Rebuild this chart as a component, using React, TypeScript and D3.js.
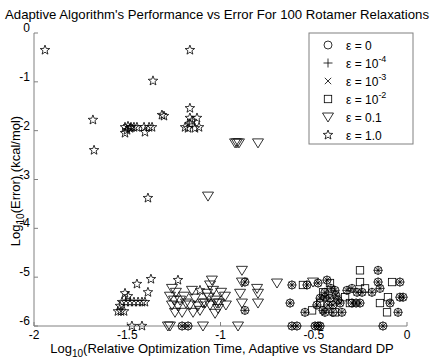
import React from "react";
import * as d3 from "d3";

// ---- data (log10 relative time, log10 error) ----
const sharedX = [-0.869,-0.869,-0.617,-0.627,-0.536,-0.477,-0.429,-0.547,-0.466,-0.440,-0.483,-0.450,-0.590,-0.477,-0.155,-0.155,-0.038,-0.145,-0.038,-0.091,-0.048,-0.129,-0.322,-0.295,-0.268,-0.241,-0.188,-0.440,-0.413,-0.424,-0.397,-0.440,-0.397,-0.349,-0.295,-0.273,-0.381,-0.370,-0.386,-0.359,-0.408,-0.021,-1.206,-1.174,-0.617,-0.493,-0.466,-0.252];
const sharedY = [-5.10,-5.68,-5.16,-5.53,-5.16,-5.12,-5.06,-5.72,-5.43,-5.41,-5.57,-5.68,-6,-6,-4.86,-5.10,-5.10,-5.23,-5.41,-5.53,-5.72,-6,-5.27,-5.23,-5.31,-5.31,-5.31,-5.31,-5.43,-5.57,-5.57,-5.72,-5.72,-5.72,-5.53,-5.53,-5.37,-5.47,-5.27,-5.53,-5.23,-5.41,-6,-6,-6,-6,-6,-5.53];

const eps0X = sharedX;
const eps0Y = sharedY;
const eps4X = sharedX;
const eps4Y = sharedY;
const eps3X = sharedX;
const eps3Y = sharedY;

const eps2X = [-0.252,-0.252,-0.225,-0.080,-0.102,-0.145,-0.107,-0.509,-0.558,-0.450,-0.466,-0.386,-0.306,-0.413,-0.332];
const eps2Y = [-4.86,-5.10,-5.23,-5.10,-5.41,-5.53,-5.72,-5.68,-5.16,-5.31,-5.53,-5.72,-5.53,-5.12,-5.41];

const eps01X = [-0.922,-0.912,-0.901,-0.799,-1.067,-1.260,-1.239,-1.271,-1.249,-1.217,-1.196,-1.260,-1.228,-1.185,-1.244,-1.206,-1.153,-1.137,-1.164,-1.121,-1.147,-1.110,-1.083,-1.056,-1.040,-1.062,-1.029,-1.056,-1.013,-0.997,-0.976,-1.008,-0.971,-1.046,-1.072,-1.094,-1.019,-1.029,-0.885,-0.885,-0.895,-0.885,-0.804,-0.799,-0.799,-0.697,-0.504,-1.282,-1.271,-1.094,-0.906];
const eps01Y = [-2.25,-2.25,-2.25,-2.25,-3.34,-5.23,-5.31,-5.39,-5.47,-5.47,-5.39,-5.57,-5.59,-5.53,-5.72,-5.72,-5.27,-5.43,-5.57,-5.59,-5.72,-5.68,-5.53,-5.16,-5.27,-5.41,-5.47,-5.57,-5.64,-5.31,-5.39,-5.53,-5.57,-5.06,-5.33,-5.53,-5.53,-5.74,-4.86,-5.10,-5.33,-5.53,-5.23,-5.33,-5.53,-5.12,-5.10,-6,-6,-6,-6];

const eps1X = [-1.941,-1.684,-1.678,-1.164,-1.362,-1.314,-1.303,-1.512,-1.496,-1.480,-1.464,-1.448,-1.501,-1.512,-1.485,-1.410,-1.383,-1.367,-1.405,-1.164,-1.164,-1.153,-1.126,-1.164,-1.190,-1.174,-1.137,-1.115,-1.389,-1.448,-1.373,-1.389,-1.512,-1.496,-1.528,-1.507,-1.485,-1.464,-1.442,-1.421,-1.405,-1.550,-1.534,-1.517,-1.475,-1.421,-1.228,-1.110,-1.539];
const eps1Y = [-0.35,-1.78,-2.40,-0.35,-0.98,-1.68,-1.70,-1.93,-1.91,-1.93,-1.93,-1.93,-1.99,-2.05,-1.95,-1.93,-1.93,-1.93,-2.03,-1.54,-1.74,-1.80,-1.74,-1.86,-1.93,-1.95,-1.95,-1.93,-3.38,-5.14,-5.04,-5.31,-5.33,-5.39,-5.51,-5.51,-5.51,-5.51,-5.51,-5.51,-5.51,-5.70,-5.70,-5.70,-6,-6,-5.06,-5.27,-5.59];

const xTicks = [-2, -1.5, -1, -0.5, 0];
const yTicks = [0, -1, -2, -3, -4, -5, -6];
const legendLabels = [
  { base: "ε = 0", sup: "" },
  { base: "ε = 10", sup: "-4" },
  { base: "ε = 10", sup: "-3" },
  { base: "ε = 10", sup: "-2" },
  { base: "ε = 0.1", sup: "" },
  { base: "ε = 1.0", sup: "" },
];

const W = 434, H = 360;
const L = 34, R = 407, T = 33, B = 326;
const FONT = "Liberation Sans, Arial, sans-serif";

type Kind = "o" | "+" | "x" | "s" | "v" | "p";

function starPath(ro: number, ri: number) {
  const pts: string[] = [];
  for (let i = 0; i < 10; i++) {
    const r = i % 2 === 0 ? ro : ri;
    const a = -Math.PI / 2 + (i * Math.PI) / 5;
    pts.push(`${(r * Math.cos(a)).toFixed(2)},${(r * Math.sin(a)).toFixed(2)}`);
  }
  return "M" + pts.join("L") + "Z";
}
const STAR = starPath(5, 2.1);

function Marker({ kind, x, y }: { kind: Kind; x: number; y: number }) {
  const common = { fill: "none", stroke: "#000", strokeWidth: 0.8 } as const;
  const tr = `translate(${x},${y})`;
  switch (kind) {
    case "o":
      return <circle cx={x} cy={y} r={4} {...common} />;
    case "+":
      return <path transform={tr} d="M-4.5,0H4.5M0,-4.5V4.5" {...common} />;
    case "x":
      return <path transform={tr} d="M-3.2,-3.2L3.2,3.2M-3.2,3.2L3.2,-3.2" {...common} />;
    case "s":
      return <rect x={x - 3.7} y={y - 3.7} width={7.4} height={7.4} {...common} />;
    case "v":
      return <path transform={tr} d="M-5.5,-4L5.5,-4L0,5Z" {...common} />;
    case "p":
      return <path transform={tr} d={STAR} {...common} />;
  }
}

export default function App() {
  const x = d3.scaleLinear().domain([-2, 0]).range([L, R]);
  const y = d3.scaleLinear().domain([-6, 0]).range([B, T]);

  const series: { kind: Kind; xs: number[]; ys: number[] }[] = [
    { kind: "o", xs: eps0X, ys: eps0Y },
    { kind: "+", xs: eps4X, ys: eps4Y },
    { kind: "x", xs: eps3X, ys: eps3Y },
    { kind: "s", xs: eps2X, ys: eps2Y },
    { kind: "v", xs: eps01X, ys: eps01Y },
    { kind: "p", xs: eps1X, ys: eps1Y },
  ];
  const axisColor = "#808080";

  return (
    <svg width={W} height={H} style={{ position: "absolute", left: 0, top: 0, background: "#fff" }} fontFamily={FONT}>
      <rect x={0} y={0} width={W} height={H} fill="#fff" />
      <text x={W / 2} y={19} textAnchor="middle" fontSize={13.2}>
        Adaptive Algorithm's Performance vs Error For 100 Rotamer Relaxations
      </text>
      {/* axes */}
      <line x1={L} x2={L} y1={T} y2={B} stroke={axisColor} strokeWidth={1} />
      <line x1={L} x2={R} y1={B} y2={B} stroke={axisColor} strokeWidth={1} />
      {xTicks.map((t) => (
        <g key={"xt" + t}>
          <line x1={x(t)} x2={x(t)} y1={B} y2={B - 4} stroke={axisColor} />
          <text x={x(t)} y={B + 13} textAnchor="middle" fontSize={12}>{t}</text>
        </g>
      ))}
      {yTicks.map((t) => (
        <g key={"yt" + t}>
          <line x1={L} x2={L + 4} y1={y(t)} y2={y(t)} stroke={axisColor} />
          <text x={L - 4} y={y(t) - 1} textAnchor="end" fontSize={12}>{t}</text>
        </g>
      ))}
      {/* points */}
      {series.map((s, si) => (
        <g key={"s" + si}>
          {s.xs.map((xv, i) => (
            <Marker key={i} kind={s.kind} x={x(xv)} y={y(s.ys[i])} />
          ))}
        </g>
      ))}
      {/* axis labels */}
      <text x={222} y={353} textAnchor="middle" fontSize={13}>
        Log<tspan fontSize={10} dy={4}>10</tspan><tspan dy={-4}>(Relative Optimization Time, Adaptive vs Standard DP</tspan>
      </text>
      <text transform={`translate(20,181) rotate(-90)`} textAnchor="middle" fontSize={13}>
        Log<tspan fontSize={10} dy={4}>10</tspan><tspan dy={-4}>(Error) (kcal/mol)</tspan>
      </text>
      {/* legend */}
      <rect x={309} y={33} width={104} height={111} fill="#fff" stroke={axisColor} strokeWidth={1} />
      {series.map((s, i) => {
        const ly = 45 + i * 18;
        const lab = legendLabels[i];
        return (
          <g key={"lg" + i}>
            <Marker kind={s.kind} x={328} y={ly} />
            <text x={346} y={ly + 4.5} fontSize={12}>
              {lab.base}
              {lab.sup && <tspan fontSize={9} dy={-6}>{lab.sup}</tspan>}
            </text>
          </g>
        );
      })}
    </svg>
  );
}
